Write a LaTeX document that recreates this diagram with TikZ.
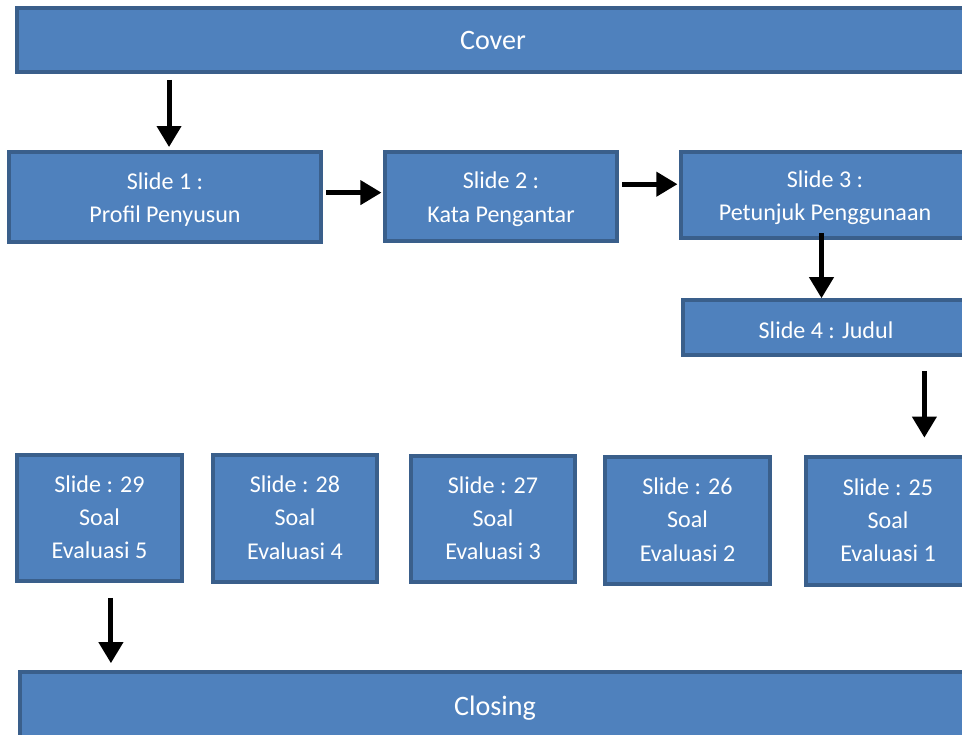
\documentclass[tikz,border=0pt]{standalone}
\usepackage{fontspec}
\setmainfont{Carlito}
\usepackage{tikz}
\usetikzlibrary{fit}
\usetikzlibrary{calc}
\usetikzlibrary{positioning}
\usetikzlibrary{arrows.meta}

\definecolor{boxfill}{HTML}{4F81BD}
\definecolor{boxline}{HTML}{3A5F8B}

\begin{document}
\begin{tikzpicture}[
  x=0.02cm, y=-0.02cm,
  slidebox/.style={draw=boxline, fill=boxfill, line width=2.1pt, rectangle, inner sep=0pt, outer sep=0pt},
  every label/.style={text=white, align=center, yshift=-1.5pt, font=\fontsize{13.7}{19}\selectfont},
  soal/.style={slidebox, label={[yshift=2pt]center:{#1}}},
  arr/.style={line width=2.8pt, black, -{Triangle[width=13.5pt,length=12pt]}},
]
\clip (0,0) rectangle (962,734);

\node (cover) [slidebox, fit={(17,8) (969,72)}, label={[yshift=1pt]center:{\fontsize{16}{19}\selectfont Cover}}] {};

\node (s1) [slidebox, fit={(9,152) (321,242)}, label=center:{Slide 1 :\\Profil Penyusun}] {};
\node (s2) [slidebox, fit={(385,152) (617,241)}, label=center:{Slide 2 :\\Kata Pengantar}] {};
\node (s3) [slidebox, fit={(681,152) (969,238)}, label=center:{Slide 3 :\\Petunjuk Penggunaan}] {};
\node (s4) [slidebox, fit={(683,300) (969,355)}, label=center:{Slide 4 : Judul}] {};

\node (s29) [soal={Slide : 29\\Soal\\Evaluasi 5}, fit={(17,455) (182,581)}] {};
\node (s28) [soal={Slide : 28\\Soal\\Evaluasi 4}, fit={(213,455) (377,582)}] {};
\node (s27) [soal={Slide : 27\\Soal\\Evaluasi 3}, fit={(411,456) (575,582)}] {};
\node (s26) [soal={Slide : 26\\Soal\\Evaluasi 2}, fit={(605,457) (770,584)}] {};
\node (s25) [soal={Slide : 25\\Soal\\Evaluasi 1}, fit={(806,457) (970,585)}] {};

\node (closing) [slidebox, fit={(20,672) (970,742)}, label={[yshift=1pt]center:{\fontsize{16}{19}\selectfont Closing}}] {};

% alur slide
\draw[arr, shorten <=4.5pt, shorten >=2.8pt]
  ([xshift=2.3pt]s1.north |- cover.south) -- ([xshift=2.3pt]s1.north);
\draw[arr, shorten <=3pt, shorten >=2pt]
  ([yshift=2.5pt]s1.east) -- ([yshift=2.5pt]s1.east -| s2.west);
\draw[arr, shorten <=3pt, shorten >=2pt]
  ([yshift=7pt]s2.east) -- ([yshift=7pt]s2.east -| s3.west);
\draw[arr, shorten <=-2.8pt, shorten >=1pt]
  ([xshift=-2pt]s3.south) -- ([xshift=-2pt]s3.south |- s4.north);
\draw[arr, shorten <=9pt, shorten >=11pt]
  ([xshift=56pt]s4.south) -- ([xshift=56pt]s4.south |- s25.north);
\draw[arr, shorten <=9.6pt, shorten >=5pt]
  ([xshift=6.5pt]s29.south) -- ([xshift=6.5pt]s29.south |- closing.north);
\end{tikzpicture}
\end{document}
